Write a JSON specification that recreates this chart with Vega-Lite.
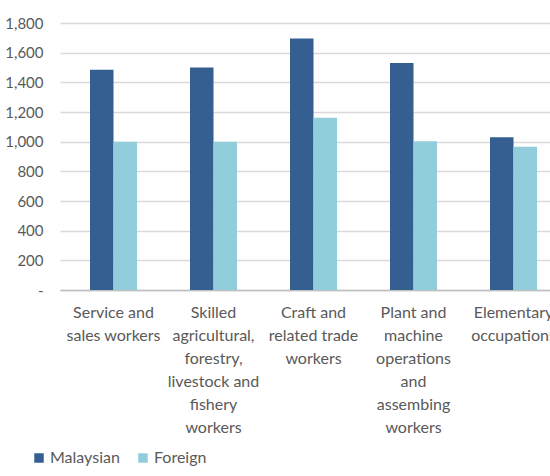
{
  "$schema": "https://vega.github.io/schema/vega-lite/v6.json",
  "autosize": "none",
  "width": 507,
  "height": 267,
  "padding": {"top": 23, "left": 60, "right": 0, "bottom": 186},
  "background": "white",
  "data": {
    "values": [
      {"occupation": "Service and|sales workers", "group": "Malaysian", "value": 1485},
      {"occupation": "Service and|sales workers", "group": "Foreign", "value": 1000},
      {"occupation": "Skilled|agricultural,|forestry,|livestock and|fishery|workers", "group": "Malaysian", "value": 1500},
      {"occupation": "Skilled|agricultural,|forestry,|livestock and|fishery|workers", "group": "Foreign", "value": 1000},
      {"occupation": "Craft and|related trade|workers", "group": "Malaysian", "value": 1695},
      {"occupation": "Craft and|related trade|workers", "group": "Foreign", "value": 1162},
      {"occupation": "Plant and|machine|operations|and|assembing|workers", "group": "Malaysian", "value": 1530},
      {"occupation": "Plant and|machine|operations|and|assembing|workers", "group": "Foreign", "value": 1003},
      {"occupation": "Elementary|occupations", "group": "Malaysian", "value": 1030},
      {"occupation": "Elementary|occupations", "group": "Foreign", "value": 966}
    ]
  },
  "mark": {"type": "bar"},
  "encoding": {
    "x": {
      "field": "occupation",
      "type": "nominal",
      "sort": null,
      "scale": {"paddingInner": 0.53, "paddingOuter": 0.3},
      "axis": {
        "title": null,
        "labelAngle": 0,
        "ticks": false,
        "labelPadding": 14,
        "labelExpr": "split(datum.label, '|')",
        "labelFont": "Lato",
        "labelFontSize": 16,
        "labelLineHeight": 23,
        "labelColor": "#595959",
        "labelLimit": 0,
        "domainColor": "#bfbfbf",
        "domainWidth": 1.5,
        "grid": false
      }
    },
    "xOffset": {"field": "group", "type": "nominal", "sort": ["Malaysian", "Foreign"]},
    "y": {
      "field": "value",
      "type": "quantitative",
      "scale": {"domain": [0, 1800]},
      "axis": {
        "title": null,
        "values": [0, 200, 400, 600, 800, 1000, 1200, 1400, 1600, 1800],
        "labelExpr": "datum.value == 0 ? '-' : format(datum.value, ',')",
        "ticks": false,
        "domain": false,
        "labelPadding": 17,
        "labelFont": "Lato",
        "labelFontSize": 15,
        "labelColor": "#595959",
        "gridColor": "#d9d9d9",
        "gridWidth": 1.5
      }
    },
    "color": {
      "field": "group",
      "type": "nominal",
      "sort": ["Malaysian", "Foreign"],
      "scale": {"domain": ["Malaysian", "Foreign"], "range": ["#365F91", "#92CDDC"]},
      "legend": {
        "title": null,
        "orient": "none",
        "direction": "horizontal",
        "legendX": -29,
        "legendY": 427,
        "symbolType": "square",
        "symbolSize": 90,
        "symbolStrokeWidth": 0,
        "labelFont": "Lato",
        "labelFontSize": 16,
        "labelColor": "#595959",
        "labelOffset": 3,
        "columnPadding": 15
      }
    }
  },
  "config": {"view": {"stroke": null}}
}
